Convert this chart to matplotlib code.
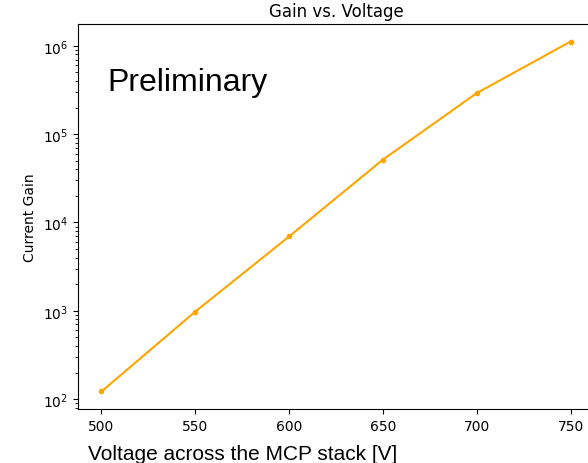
import matplotlib
matplotlib.use("Agg")
import matplotlib.pyplot as plt

# MCP stack voltage [V] and measured current gain
voltage = [500, 550, 600, 650, 700, 750]
gain = [122, 980, 6950, 51500, 292000, 1.12e6]

fig = plt.figure(figsize=(5.88, 4.64), dpi=100)
# axes runs past the right edge like in the cropped original
ax = fig.add_axes([0.1327, 0.1164, 0.8776, 0.8297])

ax.plot(voltage, gain, color='orange', marker='.', linewidth=1.5)
ax.set_yscale('log')
ax.set_xticks([500, 550, 600, 650, 700, 750])
ax.set_title('Gain vs. Voltage')
ax.set_ylabel('Current Gain')

fig.text(0.182, 0.804, 'Preliminary', family='Liberation Sans', fontsize=23,
         va='baseline', ha='left')
fig.text(0.150, 0.0086, 'Voltage across the MCP stack [V]', family='Liberation Sans',
         fontsize=15, va='baseline', ha='left')

fig.savefig('out.png', dpi=100)
